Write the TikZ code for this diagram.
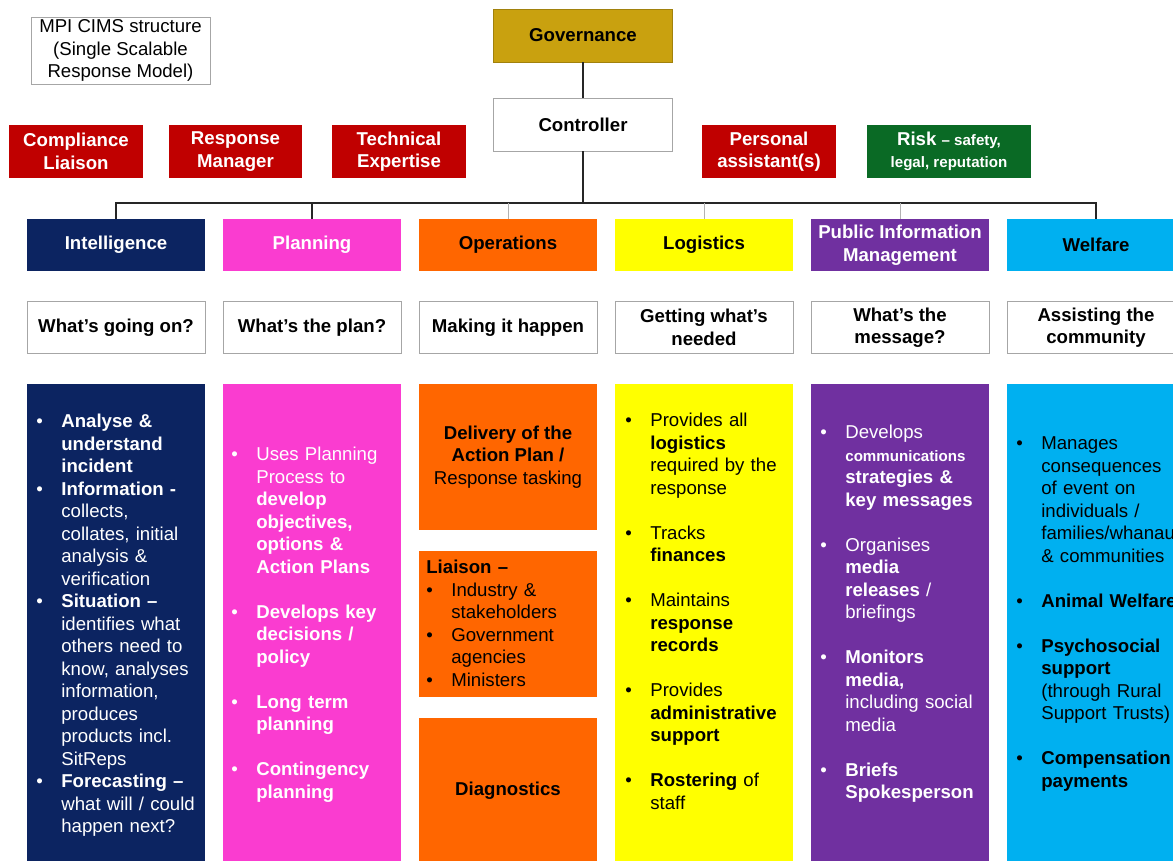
\documentclass[tikz,border=0pt]{standalone}
\usepackage{fontspec}
\setmainfont{Liberation Sans}
\usepackage{xcolor}
\usetikzlibrary{positioning}
\definecolor{govgold}{HTML}{C9A10F}
\definecolor{cimsred}{HTML}{C00000}
\definecolor{riskgreen}{HTML}{0A6A25}
\definecolor{intnavy}{HTML}{0C2461}
\definecolor{planpink}{HTML}{FA3CD0}
\definecolor{opsorange}{HTML}{FF6600}
\definecolor{logyellow}{HTML}{FFFF00}
\definecolor{pimpurple}{HTML}{7030A0}
\definecolor{welblue}{HTML}{00B0F0}
\newcommand{\bodyfont}{\fontsize{10.6}{12.8}\selectfont}
\newcommand{\smallbold}{\fontsize{8.6}{12.8}\selectfont\bfseries}
\newcommand{\bul}{\par\hangindent=0.5cm\hangafter=1\noindent\makebox[0.5cm][l]{\textbullet}}
\newcommand{\nl}{\hfil\break}
\newcommand{\bgap}{\par\vspace{\baselineskip}}
\tikzset{
  plainbox/.style={rectangle,draw=black!35,fill=white,minimum width=3.56cm,minimum height=1.04cm,inner sep=1pt,align=center,font=\bodyfont\bfseries,text=black},
  rolebox/.style={rectangle,fill=cimsred,minimum width=2.68cm,minimum height=1.06cm,inner sep=1pt,align=center,font=\bodyfont\bfseries,text=white},
  headbox/.style={rectangle,minimum width=3.56cm,minimum height=1.04cm,inner sep=1pt,align=center,font=\bodyfont\bfseries},
  colbox/.style={rectangle,minimum width=3.56cm,minimum height=9.6cm,anchor=north},
  opsbox/.style={rectangle,fill=opsorange,minimum width=3.56cm,minimum height=2.92cm,align=center,font=\bodyfont},
  duties/.style={anchor=north west,inner sep=0pt,text width=4cm,align=left,font=\bodyfont},
  tree/.style={line width=1.4pt,black!85},
  twig/.style={line width=0.4pt,black!30},
}
\begin{document}
\begin{tikzpicture}[x=0.02cm,y=-0.02cm]
  \path[use as bounding box,fill=white] (0,0) rectangle (1173,861);
  \clip (0,0) rectangle (1173,861);
  % top of the structure
  \node[plainbox,font=\bodyfont,minimum width=3.58cm,minimum height=1.34cm] (title) at (120.5,50.5) {MPI CIMS structure\\(Single Scalable\\Response Model)};
  \node[headbox,fill=govgold,draw=govgold!80!black,minimum width=3.58cm,minimum height=1.06cm] (gov) at (583,35.5) {Governance};
  \node[plainbox,minimum width=3.58cm,minimum height=1.06cm] (ctrl) at (583,124.5) {Controller};
  \node[rolebox] (comp) at (76,151.5) {Compliance\\Liaison};
  \node[rolebox] (resp) at (235.5,151.5) {Response\\Manager};
  \node[rolebox] (tech) at (399,151.5) {Technical\\Expertise};
  \node[rolebox] (pa) at (769,151.5) {Personal\\assistant(s)};
  \node[rolebox,fill=riskgreen,minimum width=3.28cm] (risk) at (949,151.5) {Risk {\smallbold – safety,}\\{\smallbold legal, reputation}};
  % functions
  \node[headbox,fill=intnavy,text=white] (hInt) at (116,245) {Intelligence};
  \node[headbox,fill=planpink,text=white] (hPla) at (312,245) {Planning};
  \node[headbox,fill=opsorange] (hOps) at (508,245) {Operations};
  \node[headbox,fill=logyellow] (hLog) at (704,245) {Logistics};
  \node[headbox,fill=pimpurple,text=white] (hPim) at (900,245) {Public Information\\Management};
  \node[headbox,fill=welblue] (hWel) at (1096,245) {Welfare};
  \node[plainbox] (qInt) at (116,327.5) {What’s going on?};
  \node[plainbox] (qPla) at (312,327.5) {What’s the plan?};
  \node[plainbox] (qOps) at (508,327.5) {Making it happen};
  \node[plainbox] (qLog) at (704,327.5) {Getting what’s\\needed};
  \node[plainbox] (qPim) at (900,327.5) {What’s the\\message?};
  \node[plainbox] (qWel) at (1096,327.5) {Assisting the\\community};
  \node[colbox,fill=intnavy] (cInt) at (116,384) {};
  \node[colbox,fill=planpink] (cPla) at (312,384) {};
  \node[colbox,fill=logyellow] (cLog) at (704,384) {};
  \node[colbox,fill=pimpurple] (cPim) at (900,384) {};
  \node[colbox,fill=welblue] (cWel) at (1096,384) {};
  \node[opsbox] (oDel) at (508,457) {\textbf{Delivery of the}\\\textbf{Action Plan /}\\Response tasking};
  \node[opsbox] (oLia) at (508,624) {};
  \node[opsbox,font=\bodyfont\bfseries] (oDia) at (508,791) {Diagnostics};
  % duties
  \node[duties,text=white] (tInt) at (36,405) {\bul\textbf{Analyse \&}\nl\textbf{understand}\nl\textbf{incident}
    \bul\textbf{Information -}\nl collects,\nl collates, initial\nl analysis \&\nl verification
    \bul\textbf{Situation –}\nl identifies what\nl others need to\nl know, analyses\nl information,\nl produces\nl products incl.\nl SitReps
    \bul\textbf{Forecasting –}\nl what will / could\nl happen next?\par};
  \node[duties,text=white] (tPla) at (231,438) {\bul Uses Planning\nl Process to\nl\textbf{develop}\nl\textbf{objectives,}\nl\textbf{options \&}\nl\textbf{Action Plans}\bgap
    \bul\textbf{Develops key}\nl\textbf{decisions /}\nl\textbf{policy}\bgap
    \bul\textbf{Long term}\nl\textbf{planning}\bgap
    \bul\textbf{Contingency}\nl\textbf{planning}\par};
  \node[duties] (tLia) at (426,560) {\textbf{Liaison –}
    \bul Industry \&\nl stakeholders
    \bul Government\nl agencies
    \bul Ministers\par};
  \node[duties] (tLog) at (625,404) {\bul Provides all\nl\textbf{logistics}\nl required by the\nl response\bgap
    \bul Tracks\nl\textbf{finances}\bgap
    \bul Maintains\nl\textbf{response}\nl\textbf{records}\bgap
    \bul Provides\nl\textbf{administrative}\nl\textbf{support}\bgap
    \bul\textbf{Rostering} of\nl staff\par};
  \node[duties,text=white] (tPim) at (820,416) {\bul Develops\nl{\smallbold communications}\nl\textbf{strategies \&}\nl\textbf{key messages}\bgap
    \bul Organises\nl\textbf{media}\nl\textbf{releases} /\nl briefings\bgap
    \bul\textbf{Monitors}\nl\textbf{media,}\nl including social\nl media\bgap
    \bul\textbf{Briefs}\nl\textbf{Spokesperson}\par};
  \node[duties] (tWel) at (1016,427) {\bul Manages\nl consequences\nl of event on\nl individuals /\nl families/whanau\nl\& communities\bgap
    \bul\textbf{Animal Welfare}\bgap
    \bul\textbf{Psychosocial}\nl\textbf{support}\nl(through Rural\nl Support Trusts)\bgap
    \bul\textbf{Compensation}\nl\textbf{payments}\par};
  % lines
  \coordinate (bar) at (583,203);
  \draw[tree] (gov) -- (ctrl);
  \draw[tree] (ctrl) -- (bar);
  \draw[tree] (hInt.north) |- (bar) -| (hWel.north);
  \draw[tree] (hPla.north) -- (hPla.north |- bar);
  \draw[twig] (hOps.north) -- (hOps.north |- bar);
  \draw[twig] (hLog.north) -- (hLog.north |- bar);
  \draw[twig] (hPim.north) -- (hPim.north |- bar);
\end{tikzpicture}
\end{document}
